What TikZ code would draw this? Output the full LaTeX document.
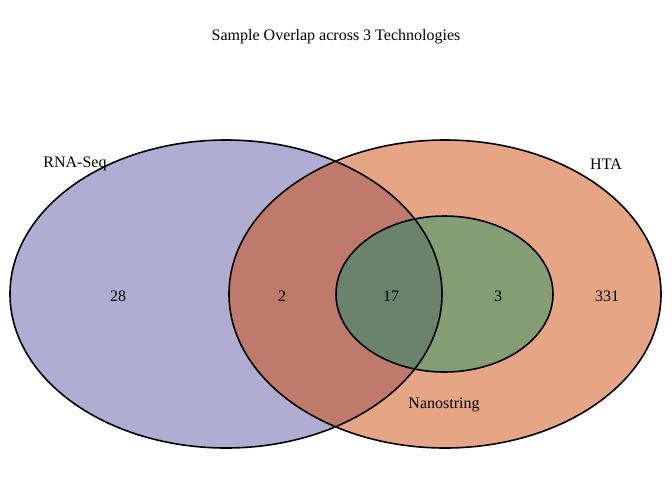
\documentclass[tikz,border=0pt]{standalone}
\usepackage{fontspec}
\setmainfont{Liberation Serif}
\definecolor{cRNA}{RGB}{177,173,210}
\definecolor{cHTA}{RGB}{230,165,133}
\definecolor{cRH}{RGB}{192,122,108}
\definecolor{cNano}{RGB}{131,158,115}
\definecolor{cRN}{RGB}{107,131,107}
\tikzset{
  outline/.style={draw=black, line width=1.6pt},
  lbl/.style={font=\fontsize{16}{18}\selectfont, inner sep=0pt},
}
\begin{document}
\begin{tikzpicture}[x=1pt,y=-1pt]
\useasboundingbox (0,0) rectangle (672,480);
\fill[white] (0,0) rectangle (672,480);
% fills
\fill[cRNA] (226,294) ellipse [x radius=216, y radius=154];
\fill[cHTA] (445,294) ellipse [x radius=216, y radius=154];
\begin{scope}
  \clip (226,294) ellipse [x radius=216, y radius=154];
  \fill[cRH] (445,294) ellipse [x radius=216, y radius=154];
\end{scope}
\fill[cNano] (444.5,294) ellipse [x radius=108.5, y radius=78];
\begin{scope}
  \clip (226,294) ellipse [x radius=216, y radius=154];
  \fill[cRN] (444.5,294) ellipse [x radius=108.5, y radius=78];
\end{scope}
% outlines
\path[outline] (226,294) ellipse [x radius=216, y radius=154];
\path[outline] (445,294) ellipse [x radius=216, y radius=154];
\path[outline] (444.5,294) ellipse [x radius=108.5, y radius=78];
% labels
\node[lbl] (title) at (336,37) {Sample Overlap across 3 Technologies};
\node[lbl] (lrna) at (75,164) {RNA-Seq};
\node[lbl] (lhta) at (606,164) {HTA};
\node[lbl] (lnano) at (444,405) {Nanostring};
\node[lbl] (n28) at (118,296) {28};
\node[lbl] (n2) at (282,296) {2};
\node[lbl] (n17) at (391,296) {17};
\node[lbl] (n3) at (498,296) {3};
\node[lbl] (n331) at (607,296) {331};
\end{tikzpicture}
\end{document}
